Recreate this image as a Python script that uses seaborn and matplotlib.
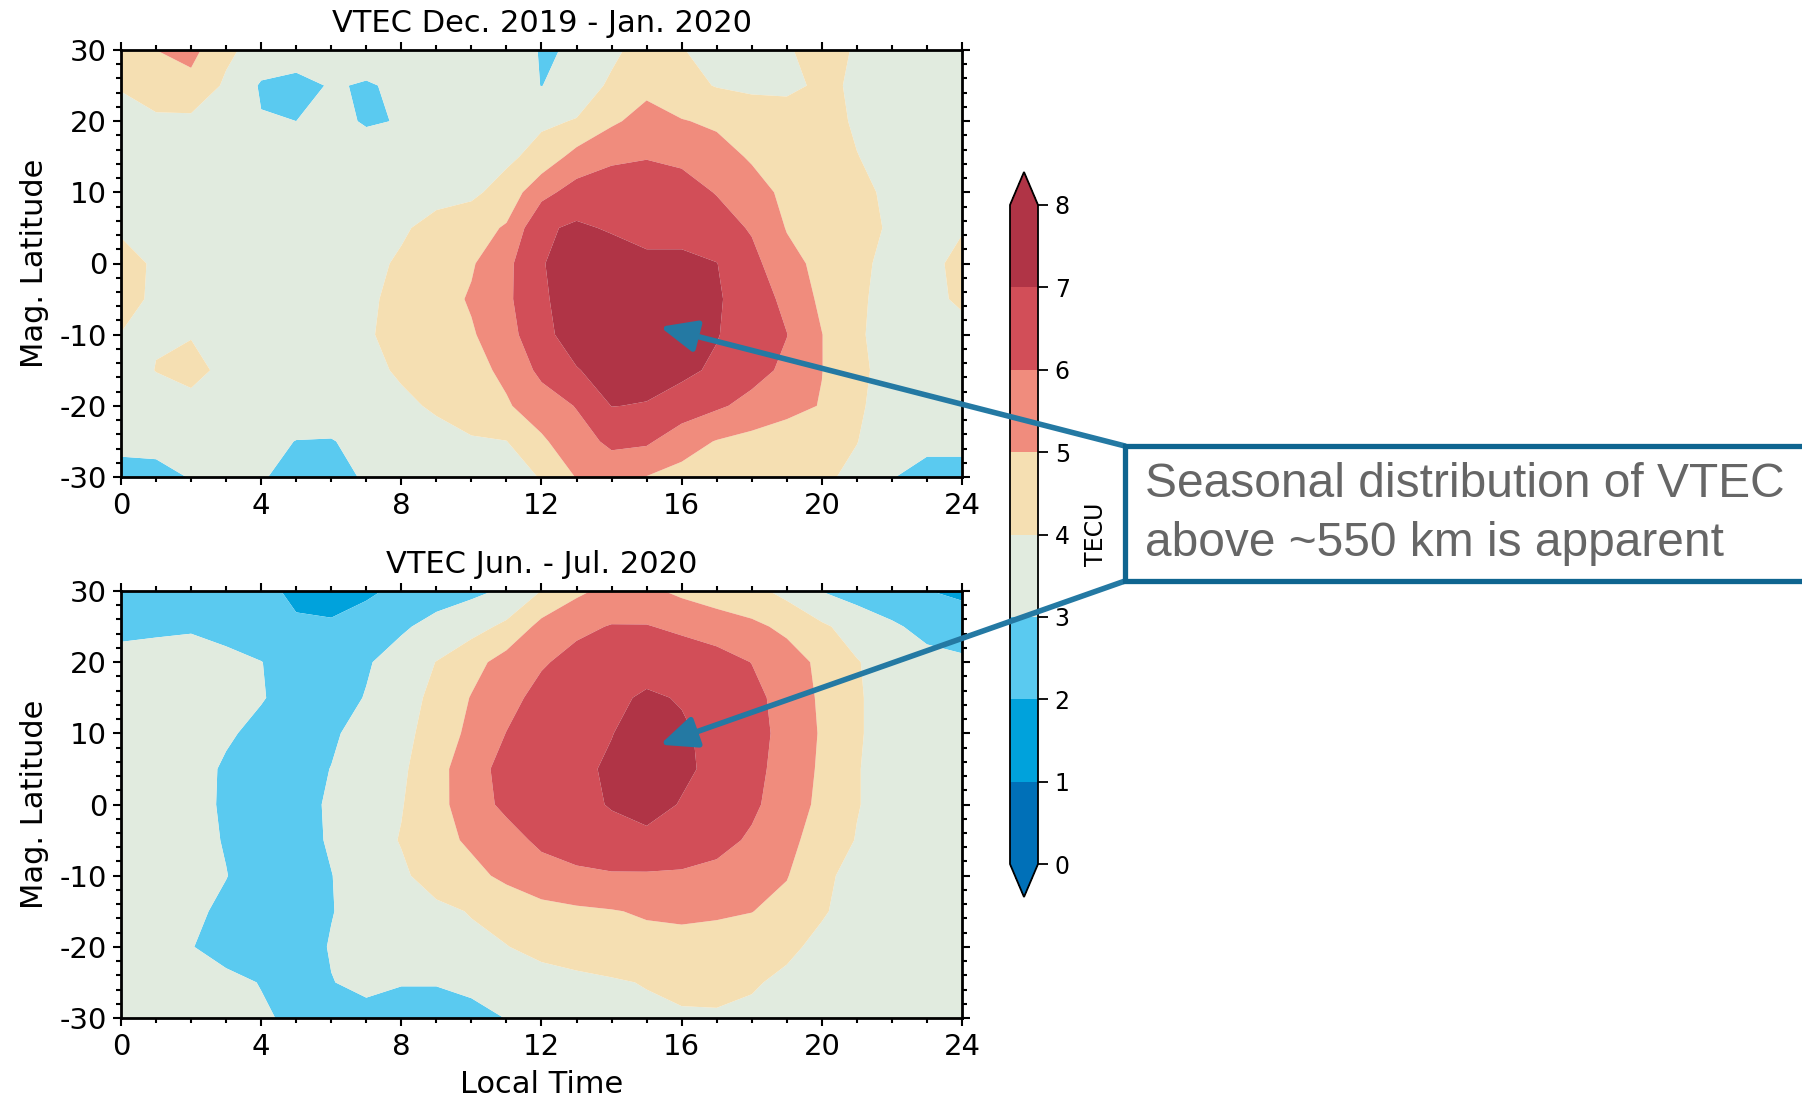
import numpy as np
import matplotlib
matplotlib.use("Agg")
import matplotlib.pyplot as plt
import seaborn as sns
from matplotlib.colors import ListedColormap, BoundaryNorm
from matplotlib.patches import ConnectionPatch, Rectangle, ArrowStyle
from matplotlib.ticker import MultipleLocator

# ---------------- data ----------------
local_time = list(range(0, 25))                      # hours
mag_lat = [30, 25, 20, 15, 10, 5, 0, -5, -10, -15, -20, -25, -30]

vtec_dec_jan = [
    [4.5, 5.0, 5.3, 4.2, 3.6, 3.7, 3.6, 3.6, 3.55, 3.55, 3.5, 3.4, 2.95, 3.05, 3.8, 4.4, 4.05, 3.6, 3.6, 3.9, 4.4, 3.9, 3.7, 3.65, 3.65],
    [4.05, 4.6, 4.7, 3.85, 2.9, 2.6, 3.1, 2.9, 3.2, 3.6, 3.55, 3.5, 2.98, 3.5, 4.15, 4.75, 4.3, 3.95, 3.8, 3.8, 4.15, 3.9, 3.7, 3.65, 3.65],
    [3.75, 3.8, 3.8, 3.6, 3.05, 3.0, 3.3, 2.9, 3.05, 3.5, 3.6, 3.7, 3.85, 4.05, 4.85, 5.35, 5.05, 4.85, 4.6, 4.45, 4.3, 3.9, 3.7, 3.65, 3.65],
    [3.7, 3.65, 3.6, 3.55, 3.5, 3.5, 3.5, 3.5, 3.55, 3.6, 3.7, 3.8, 4.35, 5.35, 5.8, 5.95, 5.8, 5.35, 4.9, 4.6, 4.3, 4.02, 3.75, 3.65, 3.65],
    [3.7, 3.6, 3.5, 3.45, 3.45, 3.5, 3.5, 3.55, 3.65, 3.75, 3.8, 4.4, 5.7, 6.4, 6.6, 6.55, 6.4, 5.95, 5.35, 4.8, 4.55, 4.25, 3.8, 3.7, 3.7],
    [3.85, 3.7, 3.55, 3.45, 3.45, 3.5, 3.55, 3.7, 3.9, 4.25, 4.6, 5.1, 6.85, 7.15, 6.9, 6.85, 6.7, 6.45, 5.9, 4.95, 4.7, 4.4, 3.85, 3.75, 3.95],
    [4.4, 3.85, 3.6, 3.5, 3.45, 3.5, 3.6, 3.8, 4.1, 4.5, 4.9, 5.75, 6.95, 7.4, 7.5, 7.1, 7.2, 7.02, 6.3, 5.3, 4.75, 4.2, 3.75, 3.8, 4.2],
    [4.3, 3.85, 3.65, 3.5, 3.5, 3.5, 3.6, 3.85, 4.25, 4.6, 5.1, 5.8, 6.85, 7.5, 7.6, 7.55, 7.45, 7.1, 6.55, 5.75, 4.8, 4.12, 3.75, 3.75, 4.15],
    [3.98, 3.95, 3.95, 3.6, 3.5, 3.5, 3.6, 3.9, 4.3, 4.6, 4.9, 5.6, 6.75, 7.4, 7.6, 7.6, 7.45, 7.05, 6.5, 6.02, 5.02, 4.1, 3.7, 3.7, 3.7],
    [3.65, 4.02, 4.3, 3.75, 3.5, 3.5, 3.6, 3.8, 4.1, 4.4, 4.7, 5.2, 6.25, 6.95, 7.35, 7.35, 7.2, 6.85, 6.35, 5.8, 5.02, 4.15, 3.75, 3.7, 3.7],
    [3.6, 3.65, 3.7, 3.6, 3.5, 3.5, 3.55, 3.7, 3.85, 4.1, 4.5, 4.9, 5.5, 6.05, 7.02, 6.95, 6.6, 6.15, 5.7, 5.3, 4.95, 4.1, 3.7, 3.6, 3.6],
    [3.3, 3.3, 3.5, 3.5, 3.25, 2.98, 2.95, 3.3, 3.55, 3.75, 3.9, 3.98, 4.85, 5.6, 6.2, 6.15, 5.4, 4.95, 4.7, 4.5, 4.35, 4.02, 3.5, 3.3, 3.3],
    [2.6, 2.7, 3.05, 3.4, 3.1, 2.6, 2.7, 3.1, 3.4, 3.6, 3.75, 3.85, 4.02, 5.05, 5.4, 4.97, 4.7, 4.5, 4.4, 4.3, 4.15, 3.8, 3.05, 2.6, 2.6],
]

vtec_jun_jul = [
    [1.95, 2.1, 2.3, 2.3, 2.2, 1.85, 1.7, 1.85, 2.2, 2.5, 2.8, 3.13, 4.02, 4.8, 5.3, 5.2, 4.8, 4.5, 4.3, 3.7, 2.98, 2.6, 2.3, 2.02, 1.85],
    [2.7, 2.8, 2.9, 2.75, 2.4, 2.1, 2.1, 2.4, 2.85, 3.35, 3.65, 4.2, 5.3, 5.8, 6.05, 6.05, 5.8, 5.5, 5.2, 4.8, 4.15, 3.6, 3.15, 2.7, 2.4],
    [3.4, 3.45, 3.4, 3.2, 3.02, 2.6, 2.5, 2.9, 3.45, 4.02, 4.65, 5.4, 5.9, 6.3, 6.55, 6.7, 6.6, 6.4, 5.98, 5.4, 4.8, 4.05, 3.6, 3.3, 3.2],
    [3.3, 3.35, 3.3, 3.2, 3.05, 2.7, 2.6, 3.05, 3.6, 4.25, 5.05, 5.7, 6.3, 6.65, 6.85, 7.1, 6.95, 6.7, 6.3, 5.6, 4.85, 4.1, 3.6, 3.4, 3.3],
    [3.35, 3.4, 3.3, 3.1, 2.8, 2.6, 2.85, 3.4, 3.8, 4.3, 5.3, 6.02, 6.5, 6.8, 6.98, 7.3, 7.1, 6.8, 6.35, 5.7, 4.9, 4.1, 3.6, 3.4, 3.35],
    [3.4, 3.45, 3.3, 2.9, 2.6, 2.65, 3.02, 3.45, 3.85, 4.6, 5.7, 6.25, 6.6, 6.85, 7.1, 7.45, 7.15, 6.8, 6.3, 5.6, 4.85, 4.05, 3.6, 3.45, 3.4],
    [3.4, 3.4, 3.25, 2.9, 2.55, 2.6, 3.15, 3.5, 3.95, 4.65, 5.6, 6.2, 6.55, 6.8, 7.05, 7.3, 6.95, 6.7, 6.2, 5.45, 4.8, 4.05, 3.6, 3.45, 3.4],
    [3.35, 3.4, 3.25, 2.95, 2.6, 2.65, 3.1, 3.6, 4.05, 4.7, 5.15, 5.65, 6.2, 6.5, 6.75, 6.8, 6.7, 6.35, 5.85, 5.25, 4.6, 3.95, 3.6, 3.5, 3.4],
    [3.35, 3.35, 3.25, 3.02, 2.65, 2.6, 2.98, 3.45, 3.85, 4.4, 4.75, 5.2, 5.6, 5.8, 5.9, 5.9, 5.85, 5.7, 5.45, 5.05, 4.2, 3.7, 3.55, 3.45, 3.4],
    [3.4, 3.35, 3.15, 2.85, 2.6, 2.6, 2.97, 3.3, 3.6, 3.8, 4.05, 4.4, 4.7, 4.85, 4.95, 5.1, 5.15, 5.1, 5.02, 4.7, 4.1, 3.6, 3.45, 3.4, 3.4],
    [3.35, 3.25, 3.03, 2.7, 2.55, 2.65, 3.05, 3.3, 3.5, 3.65, 3.8, 3.97, 4.3, 4.5, 4.6, 4.7, 4.75, 4.7, 4.5, 4.2, 3.75, 3.5, 3.4, 3.35, 3.35],
    [3.4, 3.35, 3.25, 3.2, 2.97, 2.7, 2.98, 3.15, 3.05, 3.05, 3.2, 3.4, 3.6, 3.75, 3.9, 4.05, 4.2, 4.2, 4.1, 3.8, 3.55, 3.4, 3.35, 3.35, 3.35],
    [3.45, 3.4, 3.35, 3.2, 3.1, 2.85, 2.7, 2.8, 2.6, 2.6, 2.75, 3.02, 3.3, 3.5, 3.65, 3.8, 3.9, 3.92, 3.8, 3.6, 3.45, 3.4, 3.4, 3.4, 3.4],
]

tecu_levels = [0, 1, 2, 3, 4, 5, 6, 7, 8]
level_colors = ["#0070b8", "#00a2dc", "#5acaf0", "#e1ebdf",
                "#f5dfb2", "#f08c7d", "#d24e58", "#b03446"]
x_ticks = [0, 4, 8, 12, 16, 20, 24]
y_ticks = [-30, -20, -10, 0, 10, 20, 30]
panel_titles = ["VTEC Dec. 2019 - Jan. 2020", "VTEC Jun. - Jul. 2020"]
note_lines = ["Seasonal distribution of VTEC", "above ~550 km is apparent"]
arrow_targets = [(15.38, -8.9), (15.38, 8.4)]   # (Local Time, Mag. Latitude)

# ---------------- style ----------------
sns.set_theme(style="ticks")
plt.rcParams["font.family"] = ["DejaVu Sans"]
plt.rcParams["axes.unicode_minus"] = False
plt.rcParams["text.color"] = "black"
plt.rcParams["axes.labelcolor"] = "black"

W, H = 1802, 1102
fig = plt.figure(figsize=(W / 100, H / 100), dpi=100)
fig.patch.set_facecolor("white")


def fbox(l, t, r, b):
    return [l / W, 1 - b / H, (r - l) / W, (b - t) / H]


ax_top = fig.add_axes(fbox(121, 50, 962, 477))
ax_bot = fig.add_axes(fbox(121, 591, 962, 1018))
cax = fig.add_axes(fbox(1010, 172, 1038, 897))

cmap = ListedColormap(level_colors)
cmap.set_under(level_colors[0])
cmap.set_over(level_colors[-1])
norm = BoundaryNorm(tecu_levels, cmap.N)

cs = None
for ax, field, title, is_bottom in [(ax_top, vtec_dec_jan, panel_titles[0], False),
                                    (ax_bot, vtec_jun_jul, panel_titles[1], True)]:
    cs = ax.contourf(local_time, mag_lat, np.array(field), levels=tecu_levels,
                     cmap=cmap, norm=norm, extend="both", antialiased=True)
    ax.set_xlim(0, 24)
    ax.set_ylim(-30, 30)
    ax.set_xticks(x_ticks)
    ax.set_yticks(y_ticks)
    ax.xaxis.set_minor_locator(MultipleLocator(1))
    ax.yaxis.set_minor_locator(MultipleLocator(2))
    ax.tick_params(which="both", direction="out", top=True, right=True,
                   colors="black", width=1.5)
    ax.tick_params(which="major", length=6, labelsize=21)
    ax.tick_params(axis="x", which="major", pad=5)
    ax.tick_params(axis="y", which="major", pad=4)
    ax.tick_params(which="minor", length=3.6)
    for sp in ax.spines.values():
        sp.set_color("black")
        sp.set_linewidth(2.0)
    ax.set_title(title, fontsize=22, pad=13)
    ax.set_ylabel("Mag. Latitude", fontsize=22, labelpad=8)
    if is_bottom:
        ax.set_xlabel("Local Time", fontsize=22, labelpad=6)

cb = fig.colorbar(cs, cax=cax, ticks=tecu_levels, extendfrac=0.05)
cb.ax.tick_params(labelsize=17, length=7, width=1.3, colors="black", pad=5)
cb.outline.set_linewidth(1.3)
cb.outline.set_edgecolor("black")
cb.set_label("TECU", fontsize=17, labelpad=10)

# ---------------- annotation ----------------
arrow_color = "#2479a3"
box_color = "#0f6590"
corners = [(1125, H - 446), (1125, H - 581)]
for (px, py), target, ax in zip(corners, arrow_targets, [ax_top, ax_bot]):
    con = ConnectionPatch(xyA=(px, py), coordsA="figure pixels",
                          xyB=target, coordsB="data", axesB=ax,
                          arrowstyle=ArrowStyle("-|>", head_length=1.1, head_width=0.48),
                          mutation_scale=20, lw=4.0, color=arrow_color, zorder=5)
    fig.add_artist(con)

box = Rectangle((1125 / W, 1 - 581 / H), (W + 40 - 1125) / W, (581 - 446) / H,
                transform=fig.transFigure, facecolor="white", edgecolor=box_color,
                lw=3.8, zorder=6, clip_on=False)
fig.add_artist(box)
fig.text(1145 / W, 1 - 497 / H, note_lines[0], fontsize=34.5, color="#666666",
         family=["Liberation Sans", "DejaVu Sans"], va="baseline", ha="left", zorder=7)
fig.text(1145 / W, 1 - 556 / H, note_lines[1], fontsize=34.5, color="#666666",
         family=["Liberation Sans", "DejaVu Sans"], va="baseline", ha="left", zorder=7)

fig.savefig("out.png", dpi=100, facecolor="white")
